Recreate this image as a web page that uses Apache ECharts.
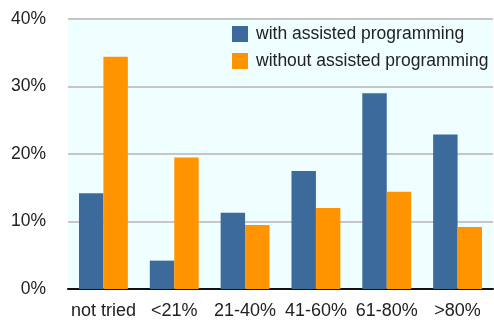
<!DOCTYPE html>
<html>
<head>
<meta charset="utf-8">
<script src="https://cdn.jsdelivr.net/npm/echarts@6/dist/echarts.min.js"></script>
<style>
  html, body { margin: 0; padding: 0; background: #ffffff; }
  #chart { width: 494px; height: 320px; }
</style>
</head>
<body>
<div id="chart"></div>
<script>
// Share of respondents per bucket, in percent
const categories = ['not tried', '<21%', '21-40%', '41-60%', '61-80%', '>80%'];
const withAssisted = [14.2, 4.2, 11.3, 17.5, 29.0, 22.9];
const withoutAssisted = [34.4, 19.5, 9.5, 12.0, 14.4, 9.2];
const seriesNames = ['with assisted programming', 'without assisted programming'];
const yTicks = [0, 10, 20, 30, 40];

const chart = echarts.init(document.getElementById('chart'), null, { renderer: 'canvas' });
const fontFamily = '"Liberation Sans", Arial, Helvetica, sans-serif';

chart.setOption({
  animation: false,
  backgroundColor: '#ffffff',
  grid: {
    left: 68, right: 1, top: 19, bottom: 29,
    show: true, backgroundColor: '#effefe', borderWidth: 0
  },
  legend: {
    data: seriesNames,
    orient: 'vertical',
    left: 232, top: 25,
    padding: 0,
    itemWidth: 16, itemHeight: 16, itemGap: 9,
    icon: 'rect',
    textStyle: { fontFamily, fontSize: 17.5, lineHeight: 16, color: '#222222', padding: [0, 0, 0, 3] }
  },
  xAxis: {
    type: 'category',
    data: categories,
    axisLine: { show: true, lineStyle: { color: '#111111', width: 2 } },
    axisTick: { show: false },
    axisLabel: { interval: 0, fontFamily, fontSize: 18, color: '#222222', margin: 13 }
  },
  yAxis: {
    type: 'value',
    min: yTicks[0], max: yTicks[yTicks.length - 1], interval: 10,
    axisLine: { show: false },
    axisTick: { show: false },
    splitLine: { lineStyle: { color: '#c6c6c6', width: 2 } },
    axisLabel: { fontFamily, fontSize: 17.5, color: '#222222', margin: 22, formatter: '{value}%' }
  },
  series: [
    {
      name: seriesNames[0], type: 'bar', data: withAssisted,
      itemStyle: { color: '#3c6a9b' },
      barGap: '0%', barCategoryGap: '31%'
    },
    {
      name: seriesNames[1], type: 'bar', data: withoutAssisted,
      itemStyle: { color: '#ff9400' },
      barGap: '0%', barCategoryGap: '31%'
    }
  ]
});
</script>
</body>
</html>
